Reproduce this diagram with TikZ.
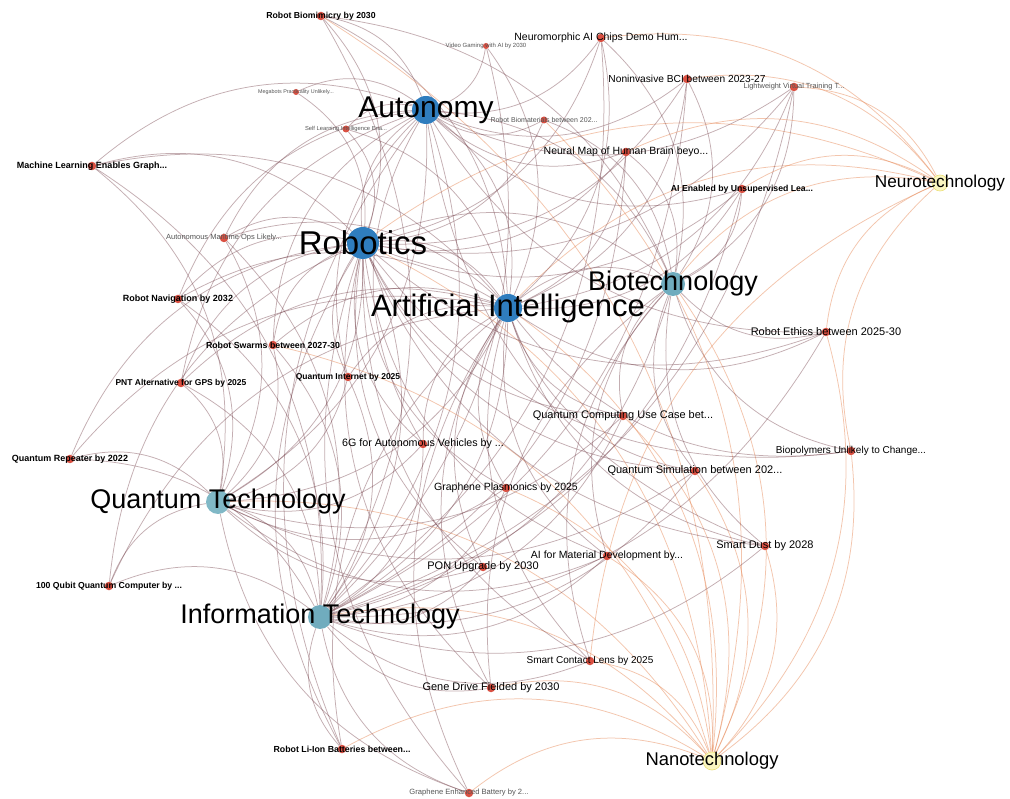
\documentclass[tikz,border=0pt]{standalone}
\usepackage{fontspec}
\setmainfont{Liberation Sans}
\usetikzlibrary{positioning}
\definecolor{hubblue}{RGB}{47,125,190}
\definecolor{hubteal}{RGB}{112,172,190}
\definecolor{hubpale}{RGB}{128,184,198}
\definecolor{hubyel}{RGB}{250,246,192}
\definecolor{yelrim}{RGB}{236,224,120}
\definecolor{dotred}{RGB}{214,62,46}
\definecolor{linkred}{RGB}{115,62,72}
\definecolor{linkor}{RGB}{232,140,92}
\definecolor{tinygray}{RGB}{85,85,85}
\pgfdeclarelayer{paper}
\pgfdeclarelayer{links}
\pgfsetlayers{paper,links,main}
\tikzset{
  hub/.style={circle, inner sep=0pt, minimum size=#1},
  dot/.style={circle, fill=dotred, fill opacity=0.9, inner sep=0pt, minimum size=8.5pt},
  lnk/.style={draw=linkred, draw opacity=0.42, line width=0.75pt, bend left=30},
  orl/.style={draw=linkor, draw opacity=0.5},
  big/.style={font=\fontsize{#1}{#1}\selectfont, inner sep=0pt},
  lbl/.style={font=\fontsize{#1}{#1}\selectfont, inner sep=0pt},
  lblb/.style={font=\bfseries\fontsize{#1}{#1}\selectfont, inner sep=0pt},
  lbls/.style={font=\fontsize{#1}{#1}\selectfont, text=tinygray, inner sep=0pt}
}

\begin{document}
\begin{tikzpicture}[x=1pt, y=-1pt]
        \useasboundingbox (0,0) rectangle (1010,799);
        \begin{pgfonlayer}{paper}
        \fill[white] (0,0) rectangle (1010,799);
        \end{pgfonlayer}

        % Hub topics
        \node[hub=28pt, fill=hubblue] (aut) at (426,110) {};
        \node[hub=32pt, fill=hubblue] (rob) at (363,243) {};
        \node[hub=28pt, fill=hubblue] (ai) at (508,308) {};
        \node[hub=24pt, fill=hubteal] (bio) at (673,284) {};
        \node[hub=24pt, fill=hubpale] (qt) at (218,502) {};
        \node[hub=24pt, fill=hubteal] (it) at (320,617) {};
        \node[hub=16pt, fill=hubyel, draw=yelrim, line width=0.6pt] (neu) at (940,183) {};
        \node[hub=18pt, fill=hubyel, draw=yelrim, line width=0.6pt] (nan) at (712,761) {};

        % Forecast points
        \node[dot] (rbm) at (321,16) {};
        \node[dot, minimum size=6pt] (vga) at (486,46) {};
        \node[dot] (nmc) at (601,38) {};
        \node[dot, minimum size=6pt] (meg) at (296,92) {};
        \node[dot] (bci) at (687,79) {};
        \node[dot] (lvt) at (794,87) {};
        \node[dot, minimum size=7pt] (sli) at (346,129) {};
        \node[dot, minimum size=7pt] (rbmat) at (544,120) {};
        \node[dot] (nmap) at (626,152) {};
        \node[dot] (mlg) at (92,166) {};
        \node[dot] (aiu) at (742,189) {};
        \node[dot] (amo) at (224,238) {};
        \node[dot] (rnav) at (178,299) {};
        \node[dot] (reth) at (826,332) {};
        \node[dot] (rswm) at (273,345) {};
        \node[dot] (pnt) at (181,383) {};
        \node[dot] (qint) at (348,377) {};
        \node[dot] (qcu) at (623,416) {};
        \node[dot] (sixg) at (423,444) {};
        \node[dot] (qrep) at (70,459) {};
        \node[dot] (bpol) at (851,451) {};
        \node[dot] (qsim) at (695,471) {};
        \node[dot] (gpl) at (506,488) {};
        \node[dot] (sdust) at (765,546) {};
        \node[dot] (aimat) at (607,556) {};
        \node[dot] (pon) at (483,567) {};
        \node[dot] (qc100) at (109,586) {};
        \node[dot] (scl) at (590,661) {};
        \node[dot] (gdf) at (491,688) {};
        \node[dot] (rlib) at (342,749) {};
        \node[dot] (geb) at (469,793) {};

        % Links
        \begin{pgfonlayer}{links}
        \draw[lnk] (rob) edge (aut) edge (ai) edge (bio) edge (qt) edge (it) edge[orl] (neu) edge[orl] (nan);
        \draw[lnk] (aut) edge (ai) edge (bio) edge (it) edge (qt);
        \draw[lnk] (ai) edge (bio) edge (it) edge (qt) edge[orl] (neu) edge[orl] (nan);
        \draw[lnk] (bio) edge[orl] (neu) edge[orl] (nan) edge (it);
        \draw[lnk] (qt) edge (it) edge[orl] (nan);
        \draw[lnk] (it) edge[orl] (nan);
        \draw[lnk] (rbm) edge (rob) edge (aut) edge (ai) edge (bio) edge (it) edge[orl] (nan);
        \draw[lnk] (vga) edge (ai) edge (aut) edge (it);
        \draw[lnk] (nmc) edge (ai) edge[orl] (neu) edge (it) edge (rob) edge (aut) edge (bio);
        \draw[lnk] (meg) edge (rob) edge (aut);
        \draw[lnk] (bci) edge[orl] (neu) edge (bio) edge (ai) edge (rob) edge (it) edge (aut);
        \draw[lnk] (lvt) edge[orl] (neu) edge (ai) edge (it) edge (rob) edge (aut) edge (bio);
        \draw[lnk] (sli) edge (ai) edge (rob) edge (aut);
        \draw[lnk] (rbmat) edge (rob) edge (bio) edge[orl] (nan) edge (aut);
        \draw[lnk] (nmap) edge[orl] (neu) edge (bio) edge (ai) edge (it) edge (rob) edge (aut);
        \draw[lnk] (mlg) edge (ai) edge (it) edge (rob) edge (aut) edge (qt);
        \draw[lnk] (aiu) edge (ai) edge (aut) edge (rob) edge (it) edge (bio) edge[orl] (neu);
        \draw[lnk] (amo) edge (aut) edge (rob) edge (ai) edge (it) edge (qt);
        \draw[lnk] (rnav) edge (rob) edge (aut) edge (ai) edge (qt) edge (it);
        \draw[lnk] (reth) edge (rob) edge (ai) edge (aut) edge (bio) edge (it) edge[orl] (neu) edge[orl] (nan);
        \draw[lnk] (rswm) edge (rob) edge (aut) edge (ai) edge (it) edge (qt) edge[orl] (nan);
        \draw[lnk] (pnt) edge (qt) edge (aut) edge (it) edge (rob) edge (ai);
        \draw[lnk] (qint) edge (qt) edge (it) edge (ai) edge (rob) edge (aut);
        \draw[lnk] (qcu) edge (qt) edge (it) edge (ai) edge (bio) edge (rob) edge[orl] (nan);
        \draw[lnk] (sixg) edge (it) edge (aut) edge (ai) edge (rob) edge (qt);
        \draw[lnk] (qrep) edge (qt) edge (it) edge (rob) edge (ai);
        \draw[lnk] (bpol) edge (bio) edge[orl] (nan) edge (rob) edge (ai) edge[orl] (neu);
        \draw[lnk] (qsim) edge (qt) edge (it) edge (bio) edge[orl] (nan) edge (ai) edge (rob);
        \draw[lnk] (gpl) edge[orl] (nan) edge (it) edge (qt) edge (ai) edge (rob);
        \draw[lnk] (sdust) edge[orl] (nan) edge (rob) edge (it) edge (ai) edge (aut) edge (bio);
        \draw[lnk] (aimat) edge (ai) edge[orl] (nan) edge (qt) edge (bio) edge (it) edge (rob);
        \draw[lnk] (pon) edge (it) edge (qt) edge (ai) edge (rob);
        \draw[lnk] (qc100) edge (qt) edge (it) edge (ai) edge (rob);
        \draw[lnk] (scl) edge[orl] (nan) edge (bio) edge (it) edge (ai) edge (rob) edge[orl] (neu);
        \draw[lnk] (gdf) edge (bio) edge (it) edge (ai) edge (rob) edge[orl] (nan);
        \draw[lnk] (rlib) edge (rob) edge[orl] (nan) edge (aut) edge (it) edge (ai);
        \draw[lnk] (geb) edge[orl] (nan) edge (it) edge (rob) edge (ai) edge (qt);
        \end{pgfonlayer}

        % Hub labels
        \node[big=30] (autT) at (aut) {Autonomy};
        \node[big=33] (robT) at (rob) {Robotics};
        \node[big=31] (aiT) at (ai) {Artificial Intelligence};
        \node[big=27] (bioT) at (bio) {Biotechnology};
        \node[big=27] (qtT) at (qt) {Quantum Technology};
        \node[big=27] (itT) at (it) {Information Technology};
        \node[big=17.2] (neuT) at (neu) {Neurotechnology};
        \node[big=18.4] (nanT) at (nan) {Nanotechnology};

        % Forecast labels
        \node[lblb=8.7] (rbmT) at (rbm) {Robot Biomimicry by 2030};
        \node[lbls=6] (vgaT) at (vga) {Video Gaming with AI by 2030};
        \node[lbl=10.5] (nmcT) at (nmc) {Neuromorphic AI Chips Demo Hum...};
        \node[lbls=5.4] (megT) at (meg) {Megabots Practicality Unlikely...};
        \node[lbl=10.2] (bciT) at (bci) {Noninvasive BCI between 2023-27};
        \node[lbls=7.4] (lvtT) at (lvt) {Lightweight Virtual Training T...};
        \node[lbls=5.8] (sliT) at (sli) {Self Learning Intelligence Ena...};
        \node[lbls=7] (rbmatT) at (rbmat) {Robot Biomaterials between 202...};
        \node[lbl=10.5] (nmapT) at (nmap) {Neural Map of Human Brain beyo...};
        \node[lblb=9] (mlgT) at (mlg) {Machine Learning Enables Graph...};
        \node[lblb=8.7] (aiuT) at (aiu) {AI Enabled by Unsupervised Lea...};
        \node[lbls=7.5] (amoT) at (amo) {Autonomous Maritime Ops Likely...};
        \node[lblb=9] (rnavT) at (rnav) {Robot Navigation by 2032};
        \node[lbl=11] (rethT) at (reth) {Robot Ethics between 2025-30};
        \node[lblb=8.8] (rswmT) at (rswm) {Robot Swarms between 2027-30};
        \node[lblb=8.5] (pntT) at (pnt) {PNT Alternative for GPS by 2025};
        \node[lblb=8.5] (qintT) at (qint) {Quantum Internet by 2025};
        \node[lbl=11] (qcuT) at (qcu) {Quantum Computing Use Case bet...};
        \node[lbl=10.7] (sixgT) at (sixg) {6G for Autonomous Vehicles by ...};
        \node[lblb=9] (qrepT) at (qrep) {Quantum Repeater by 2022};
        \node[lbl=10] (bpolT) at (bpol) {Biopolymers Unlikely to Change...};
        \node[lbl=11] (qsimT) at (qsim) {Quantum Simulation between 202...};
        \node[lbl=10.5] (gplT) at (gpl) {Graphene Plasmonics by 2025};
        \node[lbl=11] (sdustT) at (sdust) {Smart Dust by 2028};
        \node[lbl=10.5] (aimatT) at (aimat) {AI for Material Development by...};
        \node[lbl=11] (ponT) at (pon) {PON Upgrade by 2030};
        \node[lblb=8.7] (qc100T) at (qc100) {100 Qubit Quantum Computer by ...};
        \node[lbl=10] (sclT) at (scl) {Smart Contact Lens by 2025};
        \node[lbl=11] (gdfT) at (gdf) {Gene Drive Fielded by 2030};
        \node[lblb=8.8] (rlibT) at (rlib) {Robot Li-Ion Batteries between...};
        \node[lbls=7.6] (gebT) at (geb) {Graphene Enhanced Battery by 2...};
    \end{tikzpicture}
\end{document}
